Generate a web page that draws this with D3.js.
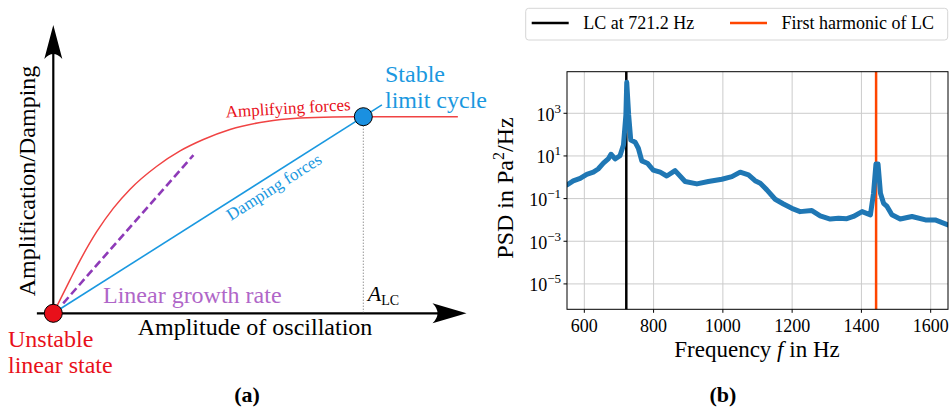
<!DOCTYPE html>
<html>
<head>
<meta charset="utf-8">
<script src="https://cdn.jsdelivr.net/npm/d3@7"></script>
<style>
  body { margin: 0; background: #fff; }
  svg { display: block; font-family: "Liberation Serif", serif; }
</style>
</head>
<body>
<svg id="chart" width="949" height="415"></svg>
<script>
// ---- panel (a): schematic, amplitude in units of A_LC ----
const ampX = [0, 0.054, 0.086, 0.14, 0.194, 0.247, 0.334, 0.409, 0.484, 0.57, 0.688, 0.796, 0.902, 1.0, 1.305]
const ampY = [0, 0.17, 0.268, 0.415, 0.535, 0.63, 0.748, 0.826, 0.884, 0.935, 0.976, 0.993, 0.999, 1.0, 1.0]
const dampX = [0, 1.06]
const dampY = [0, 1.06]
const growthX = [0.032, 0.452]
const growthY = [0.051, 0.805]

// ---- panel (b): PSD ----
const freqHz = [550, 568, 588, 607, 626, 640, 655, 669, 677, 689, 703, 713, 720, 722.5, 728, 734, 747, 756, 766, 782,
  799, 819, 838, 862, 891, 925, 958, 997, 1026, 1050, 1074, 1093, 1108, 1127, 1151, 1175, 1199, 1223, 1257, 1281,
  1310, 1334, 1358, 1377, 1402, 1426, 1435, 1442, 1448, 1455, 1464, 1474, 1488, 1512, 1546, 1585, 1613, 1650]
const psdVal = [0.44, 0.68, 0.89, 1.38, 1.74, 2.45, 4.57, 7.24, 12.0, 7.24, 10.2, 32.4, 832, 28200, 832, 56.2, 43.7, 22.9, 5.89, 4.57,
  2.19, 1.74, 1.15, 2.04, 0.63, 0.49, 0.63, 0.81, 1.07, 1.74, 1.29, 0.69, 0.52, 0.257, 0.093, 0.056, 0.035, 0.0245, 0.0275, 0.0155,
  0.011, 0.012, 0.0115, 0.0145, 0.0245, 0.0174, 0.178, 4.17, 4.17, 0.178, 0.060, 0.043, 0.0174, 0.011, 0.0145, 0.010, 0.010, 0.0059]
const xTicks = [600, 800, 1000, 1200, 1400, 1600]
const yTickExp = [3, 1, -1, -3, -5]
const lcFreq = 721.2
const harmonicFreq = 1442.4
const legendLabels = ['LC at 721.2 Hz', 'First harmonic of LC']

const svg = d3.select('#chart')

// ================= panel (a) =================
const xA = d3.scaleLinear().domain([0, 1]).range([53.3, 363.3])
const yA = d3.scaleLinear().domain([0, 1]).range([313.3, 116.7])
const gA = svg.append('g')

// axes with arrow heads
const x0 = xA(0), y0 = yA(0)
const yTip = yA(1.466), xTip = xA(1.333)
gA.append('line').attr('x1', x0).attr('x2', x0).attr('y1', yA(-0.045)).attr('y2', yTip + 20)
  .attr('stroke', '#000').attr('stroke-width', 2.2)
gA.append('line').attr('x1', xA(-0.053)).attr('x2', xTip - 20).attr('y1', y0).attr('y2', y0)
  .attr('stroke', '#000').attr('stroke-width', 2.2)
gA.append('path')
  .attr('d', `M${x0},${yTip} L${x0 - 9},${yTip + 34} Q${x0},${yTip + 24} ${x0 + 9},${yTip + 34} Z`)
  .attr('fill', '#000')
gA.append('path')
  .attr('d', `M${xTip},${y0} L${xTip - 34},${y0 - 10} Q${xTip - 24},${y0} ${xTip - 34},${y0 + 10} Z`)
  .attr('fill', '#000')

// dotted line down to A_LC
gA.append('line').attr('x1', xA(1)).attr('x2', xA(1)).attr('y1', yA(1)).attr('y2', y0)
  .attr('stroke', '#666').attr('stroke-width', 1).attr('stroke-dasharray', '1,2')

const lineA = d3.line().x(d => xA(d[0])).y(d => yA(d[1]))

gA.append('path').datum(dampX.map((v, i) => [v, dampY[i]]))
  .attr('d', lineA).attr('fill', 'none').attr('stroke', '#1a98e0').attr('stroke-width', 1.6)
gA.append('path').datum(ampX.map((v, i) => [v, ampY[i]]))
  .attr('d', d3.line().x(d => xA(d[0])).y(d => yA(d[1])).curve(d3.curveMonotoneX))
  .attr('fill', 'none').attr('stroke', '#f04343').attr('stroke-width', 1.5)
gA.append('path').datum(growthX.map((v, i) => [v, growthY[i]]))
  .attr('d', lineA)
  .attr('fill', 'none').attr('stroke', '#8e3ab8').attr('stroke-width', 2.6).attr('stroke-dasharray', '8,4')

// unstable state and limit cycle points
gA.append('circle').attr('cx', xA(0)).attr('cy', yA(0)).attr('r', 9)
  .attr('fill', '#e8101a').attr('stroke', '#000').attr('stroke-width', 1)
gA.append('circle').attr('cx', xA(1)).attr('cy', yA(1)).attr('r', 9)
  .attr('fill', '#1a90e0').attr('stroke', '#000').attr('stroke-width', 1)

// labels
const big = 24
gA.append('text').attr('transform', 'translate(35,181) rotate(-90)').attr('text-anchor', 'middle')
  .attr('font-size', big).text('Amplification/Damping')
gA.append('text').attr('x', 255).attr('y', 335).attr('text-anchor', 'middle')
  .attr('font-size', big).text('Amplitude of oscillation')
gA.append('text').attr('x', 8).attr('y', 347).attr('font-size', big).attr('fill', '#e8101a').text('Unstable')
gA.append('text').attr('x', 8).attr('y', 373).attr('font-size', big).attr('fill', '#e8101a').text('linear state')
gA.append('text').attr('x', 385).attr('y', 81.7).attr('font-size', big).attr('fill', '#1a98e0').text('Stable')
gA.append('text').attr('x', 385).attr('y', 108).attr('font-size', big).attr('fill', '#1a98e0').text('limit cycle')
gA.append('text').attr('x', 103).attr('y', 303).attr('font-size', big).attr('fill', '#b066c8').text('Linear growth rate')
gA.append('text').attr('transform', 'translate(226,117.5) rotate(-3.4)')
  .attr('font-size', 17).attr('fill', '#e8101a').text('Amplifying forces')
gA.append('text').attr('transform', 'translate(231,221) rotate(-32.5)')
  .attr('font-size', 17).attr('fill', '#1a98e0').text('Damping forces')
const alc = gA.append('text').attr('x', 367.7).attr('y', 300.7).attr('font-size', 22)
alc.append('tspan').attr('font-style', 'italic').text('A')
alc.append('tspan').attr('dy', 4).attr('font-size', 14).text('LC')
gA.append('text').attr('x', 247).attr('y', 402).attr('text-anchor', 'middle')
  .attr('font-size', 22).attr('font-weight', 'bold').text('(a)')

// ================= panel (b) =================
const xB = d3.scaleLinear().domain([550, 1650]).range([567, 948])
const yB = d3.scaleLog().domain([Math.pow(10, -6.19), Math.pow(10, 4.95)]).range([309.3, 71.7])
const gB = svg.append('g')
const [pLeft, pRight] = xB.range()
const [pBottom, pTop] = yB.range()

svg.append('clipPath').attr('id', 'plotClip')
  .append('rect').attr('x', pLeft).attr('y', pTop).attr('width', pRight - pLeft).attr('height', pBottom - pTop)

// grid
gB.selectAll('.vgrid').data(xTicks).join('line').attr('class', 'vgrid')
  .attr('x1', d => xB(d)).attr('x2', d => xB(d)).attr('y1', pTop).attr('y2', pBottom)
  .attr('stroke', '#cbcbcb').attr('stroke-width', 1)
gB.selectAll('.hgrid').data(yTickExp).join('line').attr('class', 'hgrid')
  .attr('x1', pLeft).attr('x2', pRight).attr('y1', d => yB(Math.pow(10, d))).attr('y2', d => yB(Math.pow(10, d)))
  .attr('stroke', '#cbcbcb').attr('stroke-width', 1)

// marker lines
gB.append('line').attr('x1', xB(lcFreq)).attr('x2', xB(lcFreq)).attr('y1', pTop).attr('y2', pBottom)
  .attr('stroke', '#000').attr('stroke-width', 2.5)
gB.append('line').attr('x1', xB(harmonicFreq)).attr('x2', xB(harmonicFreq)).attr('y1', pTop).attr('y2', pBottom)
  .attr('stroke', '#ff4500').attr('stroke-width', 2.5)

// PSD curve
gB.append('path').datum(freqHz.map((f, i) => [f, psdVal[i]]))
  .attr('clip-path', 'url(#plotClip)')
  .attr('d', d3.line().x(d => xB(d[0])).y(d => yB(d[1])))
  .attr('fill', 'none').attr('stroke', '#1f77b4').attr('stroke-width', 5)
  .attr('stroke-linejoin', 'round').attr('stroke-linecap', 'round')

// frame
gB.append('rect').attr('x', pLeft).attr('y', pTop).attr('width', pRight - pLeft).attr('height', pBottom - pTop)
  .attr('fill', 'none').attr('stroke', '#000').attr('stroke-width', 1)

// x axis ticks
gB.selectAll('.xtick').data(xTicks).join('line').attr('class', 'xtick')
  .attr('x1', d => xB(d)).attr('x2', d => xB(d)).attr('y1', pBottom).attr('y2', pBottom + 3.5)
  .attr('stroke', '#000')
gB.selectAll('.xlab').data(xTicks).join('text').attr('class', 'xlab')
  .attr('x', d => xB(d)).attr('y', pBottom + 22.5).attr('text-anchor', 'middle')
  .attr('font-size', 18).text(d => d)

// y axis ticks
gB.selectAll('.ytick').data(yTickExp).join('line').attr('class', 'ytick')
  .attr('x1', pLeft - 3.5).attr('x2', pLeft).attr('y1', d => yB(Math.pow(10, d))).attr('y2', d => yB(Math.pow(10, d)))
  .attr('stroke', '#000')
const ylab = gB.selectAll('.ylab').data(yTickExp).join('text').attr('class', 'ylab')
  .attr('x', pLeft - 6).attr('y', d => yB(Math.pow(10, d)) + 7.5).attr('text-anchor', 'end').attr('font-size', 18)
ylab.append('tspan').text('10')
ylab.append('tspan').attr('dy', -8).attr('font-size', 13).text(d => String(d).replace('-', '\u2212'))

// axis titles
const yt = gB.append('text').attr('transform', 'translate(513,188) rotate(-90)')
  .attr('text-anchor', 'middle').attr('font-size', big)
yt.append('tspan').text('PSD in Pa')
yt.append('tspan').attr('dy', -9).attr('font-size', 16).text('2')
yt.append('tspan').attr('dy', 9).text('/Hz')
const xt = gB.append('text').attr('x', 757).attr('y', 357).attr('text-anchor', 'middle').attr('font-size', 23)
xt.append('tspan').text('Frequency ')
xt.append('tspan').attr('font-style', 'italic').text('f')
xt.append('tspan').text(' in Hz')
gB.append('text').attr('x', 723).attr('y', 402).attr('text-anchor', 'middle')
  .attr('font-size', 22).attr('font-weight', 'bold').text('(b)')

// legend
const lg = gB.append('g')
lg.append('rect').attr('x', 525.7).attr('y', 8.3).attr('width', 422).attr('height', 31.7).attr('rx', 3)
  .attr('fill', '#fff').attr('stroke', '#d6d6d6')
const legendColors = ['#000', '#ff4500']
const legendX = [531.7, 730]
legendLabels.forEach((t, i) => {
  lg.append('line').attr('x1', legendX[i]).attr('x2', legendX[i] + 37).attr('y1', 23).attr('y2', 23)
    .attr('stroke', legendColors[i]).attr('stroke-width', 2.5)
  lg.append('text').attr('x', legendX[i] + 51.5).attr('y', 29).attr('font-size', 18).text(t)
})
</script>
</body>
</html>
